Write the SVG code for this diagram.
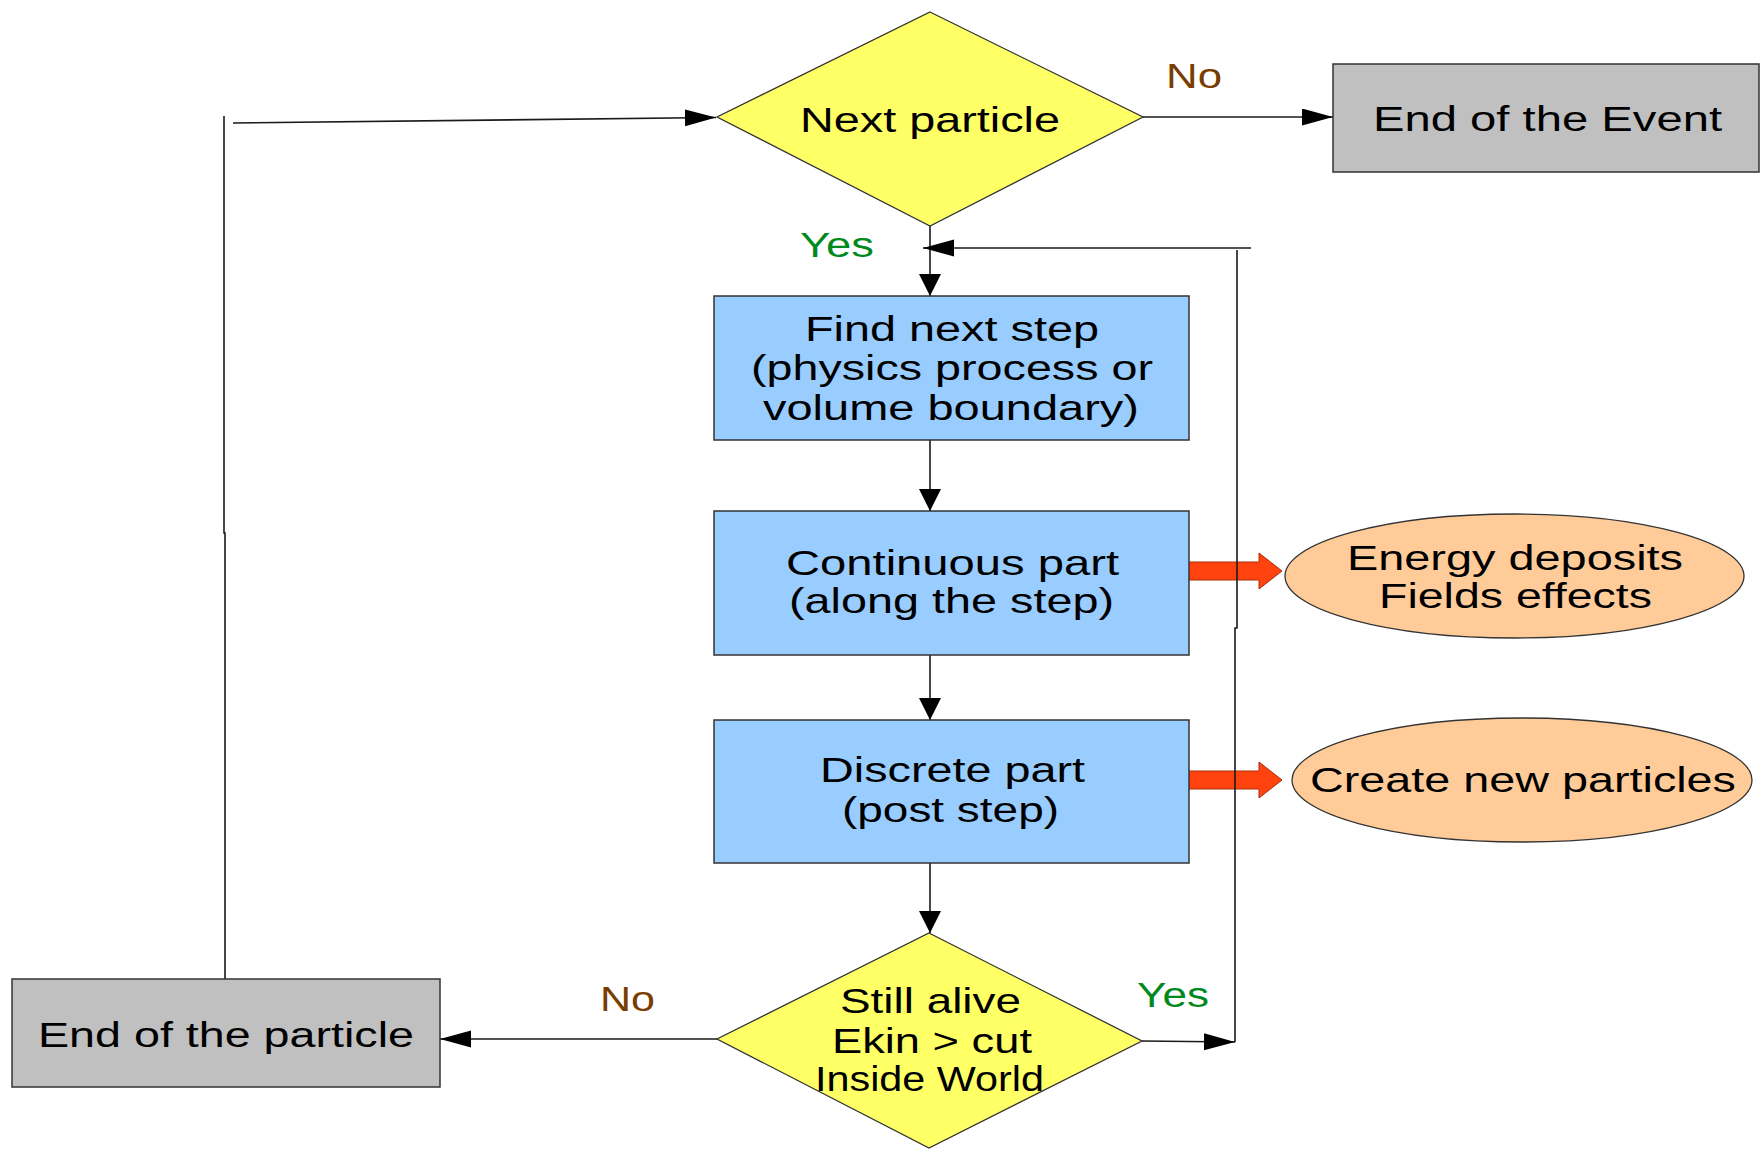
<svg xmlns="http://www.w3.org/2000/svg" width="1762" height="1149" viewBox="0 0 1762 1149">
<defs>
<style>
.t{font-family:"Liberation Sans",Arial,sans-serif;font-size:35px;fill:#000;text-anchor:middle}
.no{fill:#7a3d00}
.yes{fill:#008a1e}
.dia{fill:#ffff66;stroke:#333;stroke-width:1.3}
.box{fill:#99ccff;stroke:#333;stroke-width:1.5}
.gray{fill:#c0c0c0;stroke:#333;stroke-width:1.5}
.ell{fill:#ffcc99;stroke:#333;stroke-width:1.3}
.ln{fill:none;stroke:#1a1a1a;stroke-width:1.6}
.blk{fill:#ff420e;stroke:#a8300a;stroke-width:1}
</style>
<marker id="ah" markerUnits="userSpaceOnUse" markerWidth="32" markerHeight="18" refX="31" refY="8.5" orient="auto" viewBox="0 0 32 18">
<path d="M0,0 L31,8.5 L0,17 z" fill="#000"/>
</marker>
<marker id="av" markerUnits="userSpaceOnUse" markerWidth="23" markerHeight="23" refX="22" refY="11" orient="auto" viewBox="0 0 23 23">
<path d="M0,0 L22,11 L0,22 z" fill="#000"/>
</marker>
</defs>
<rect width="1762" height="1149" fill="#fff"/>

<g id="connectors">
<path class="blk" d="M1188,562 L1259,562 L1259,553 L1282,571 L1259,589 L1259,580 L1188,580 z"/>
<path class="blk" d="M1188,771 L1259,771 L1259,762 L1282,780 L1259,798 L1259,789 L1188,789 z"/>
<line class="ln" x1="1143" y1="117" x2="1333" y2="117" marker-end="url(#ah)"/>
<line class="ln" x1="930" y1="226" x2="930" y2="296" marker-end="url(#av)"/>
<line class="ln" x1="930" y1="440" x2="930" y2="511" marker-end="url(#av)"/>
<line class="ln" x1="930" y1="655" x2="930" y2="720" marker-end="url(#av)"/>
<line class="ln" x1="930" y1="863" x2="930" y2="933" marker-end="url(#av)"/>
<line class="ln" x1="1251" y1="248" x2="923" y2="248" marker-end="url(#ah)"/>
<polyline class="ln" points="1235,1042 1235,628 1237,628 1237,250"/>
<line class="ln" x1="1142" y1="1041" x2="1235" y2="1042" marker-end="url(#ah)"/>
<line class="ln" x1="717" y1="1039" x2="440" y2="1039" marker-end="url(#ah)"/>
<polyline class="ln" points="225,979 225,533 224,533 224,116"/>
<line class="ln" x1="233" y1="123" x2="716" y2="117.5" marker-end="url(#ah)"/>
<text class="t no" x="1194" y="88" textLength="56" lengthAdjust="spacingAndGlyphs">No</text>
<text class="t yes" x="837" y="257" textLength="74" lengthAdjust="spacingAndGlyphs">Yes</text>
<text class="t yes" x="1173" y="1007" textLength="72" lengthAdjust="spacingAndGlyphs">Yes</text>
<text class="t no" x="627.5" y="1011" textLength="55" lengthAdjust="spacingAndGlyphs">No</text>
</g>

<g id="next-particle">
<polygon class="dia" points="930,12 1143,117 930,226 717,117"/>
<text class="t" x="930" y="132" textLength="260" lengthAdjust="spacingAndGlyphs">Next particle</text>
</g>

<g id="end-event">
<rect class="gray" x="1333" y="64" width="426" height="108"/>
<text class="t" x="1547.5" y="131" textLength="349" lengthAdjust="spacingAndGlyphs">End of the Event</text>
</g>

<g id="find-next-step">
<rect class="box" x="714" y="296" width="475" height="144"/>
<text class="t" x="952" y="341" textLength="294" lengthAdjust="spacingAndGlyphs">Find next step</text>
<text class="t" x="952" y="380" textLength="402" lengthAdjust="spacingAndGlyphs">(physics process or</text>
<text class="t" x="951" y="420" textLength="376" lengthAdjust="spacingAndGlyphs">volume boundary)</text>
</g>

<g id="continuous-part">
<rect class="box" x="714" y="511" width="475" height="144"/>
<text class="t" x="952.5" y="575" textLength="333" lengthAdjust="spacingAndGlyphs">Continuous part</text>
<text class="t" x="951.5" y="613" textLength="325" lengthAdjust="spacingAndGlyphs">(along the step)</text>
</g>

<g id="energy-deposits">
<ellipse class="ell" cx="1514.5" cy="576" rx="229.5" ry="62"/>
<text class="t" x="1515" y="570" textLength="336" lengthAdjust="spacingAndGlyphs">Energy deposits</text>
<text class="t" x="1515.5" y="608" textLength="273" lengthAdjust="spacingAndGlyphs">Fields effects</text>
</g>

<g id="discrete-part">
<rect class="box" x="714" y="720" width="475" height="143"/>
<text class="t" x="952.5" y="782" textLength="265" lengthAdjust="spacingAndGlyphs">Discrete part</text>
<text class="t" x="950.5" y="822" textLength="217" lengthAdjust="spacingAndGlyphs">(post step)</text>
</g>

<g id="create-particles">
<ellipse class="ell" cx="1522" cy="780" rx="230" ry="62"/>
<text class="t" x="1523" y="792" textLength="426" lengthAdjust="spacingAndGlyphs">Create new particles</text>
</g>

<g id="still-alive">
<polygon class="dia" points="929,933 1142,1041 929,1148 717,1039"/>
<text class="t" x="930.5" y="1013" textLength="181" lengthAdjust="spacingAndGlyphs">Still alive</text>
<text class="t" x="932" y="1053" textLength="200" lengthAdjust="spacingAndGlyphs">Ekin &gt; cut</text>
<text class="t" x="929.5" y="1091" textLength="229" lengthAdjust="spacingAndGlyphs">Inside World</text>
</g>

<g id="end-particle">
<rect class="gray" x="12" y="979" width="428" height="108"/>
<text class="t" x="226" y="1047" textLength="376" lengthAdjust="spacingAndGlyphs">End of the particle</text>
</g>
</svg>
